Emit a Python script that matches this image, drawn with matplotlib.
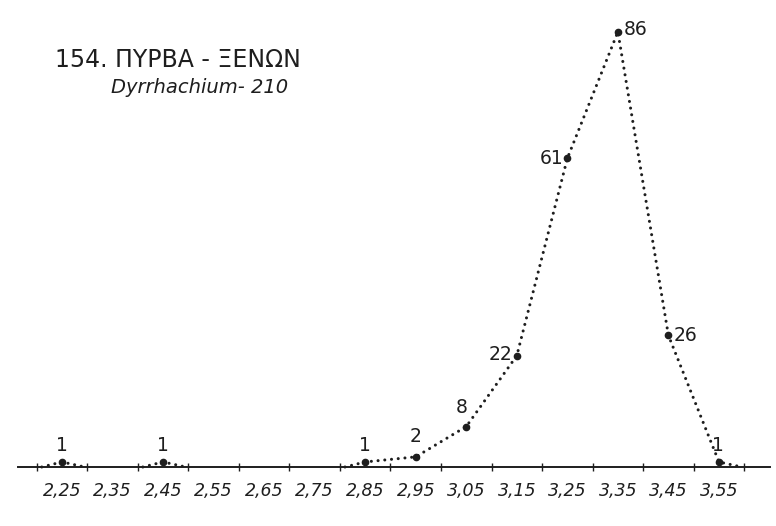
import matplotlib
matplotlib.use("Agg")
import matplotlib.pyplot as plt
import numpy as np

# bin centres (mm) and counts, Dyrrhachium - 210
centres = [2.25, 2.35, 2.45, 2.55, 2.65, 2.75, 2.85, 2.95, 3.05, 3.15, 3.25, 3.35, 3.45, 3.55]
counts = [1, 0, 1, 0, 0, 0, 1, 2, 8, 22, 61, 86, 26, 1]
tick_labels = ["2,25", "2,35", "2,45", "2,55", "2,65", "2,75", "2,85",
               "2,95", "3,05", "3,15", "3,25", "3,35", "3,45", "3,55"]
title = "154. ΠΥΡΒΑ - ΞΕΝΩΝ"
subtitle = "Dyrrhachium- 210"

ink = "#1e1e1e"
plt.rcParams['font.family'] = ['DejaVu Sans']

fig = plt.figure(figsize=(7.76, 5.26), dpi=100)
ax = fig.add_axes([18 / 776, 59 / 526, 752 / 776, 467 / 526])
ax.set_xlim(2.163, 3.651)
ax.set_ylim(0, 92.3)

# split into runs of non-zero bins, each run drawn down to the baseline
runs = []
cur = []
for c, n in zip(centres, counts):
    if n > 0:
        cur.append((c, n))
    elif cur:
        runs.append(cur)
        cur = []
if cur:
    runs.append(cur)

for run in runs:
    xs = [run[0][0] - 0.04] + [p[0] for p in run] + [run[-1][0] + 0.045]
    ys = [0] + [p[1] for p in run] + [0]
    ax.plot(xs, ys, color=ink, lw=2.2, linestyle=(0, (0.01, 2.2)),
            dash_capstyle='round', clip_on=False)

nz = [(c, n) for c, n in zip(centres, counts) if n > 0]
ax.plot([p[0] for p in nz], [p[1] for p in nz], 'o', color=ink, ms=4.5, clip_on=False)

# label placement per point: (dx, dy) in points, ha
place = {
    2.25: ((0, 12), 'center'),
    2.45: ((0, 12), 'center'),
    2.85: ((0, 12), 'center'),
    2.95: ((0, 15), 'center'),
    3.05: ((-3, 14), 'center'),
    3.15: ((-3, 1), 'right'),
    3.25: ((-3, 0), 'right'),
    3.35: ((4, 2), 'left'),
    3.45: ((4, 0), 'left'),
    3.55: ((-1, 12), 'center'),
}
for c, n in nz:
    off, ha = place[c]
    ax.annotate(str(n), (c, n), xytext=off, textcoords='offset points',
                ha=ha, va='center', fontsize=13.5, color=ink)

for s in ['top', 'right', 'left']:
    ax.spines[s].set_visible(False)
ax.spines['bottom'].set_color(ink)
ax.spines['bottom'].set_linewidth(1.4)
ax.set_yticks([])

edges = np.round(np.arange(2.20, 3.601, 0.1), 2)
ax.set_xticks(edges)
ax.set_xticklabels([])
ax.tick_params(axis='x', which='major', direction='inout', length=6, width=1, color=ink)
ax.set_xticks(centres, minor=True)
ax.set_xticklabels(tick_labels, minor=True, fontsize=12.5, style='italic', color=ink)
ax.tick_params(axis='x', which='minor', length=0, pad=11)

fig.text(55 / 776, 1 - 67 / 526, title, fontsize=17, color=ink, ha='left', va='baseline')
fig.text(111 / 776, 1 - 93 / 526, subtitle, fontsize=14, style='italic', color=ink,
         ha='left', va='baseline')

fig.savefig("out.png", dpi=100, facecolor='white')
